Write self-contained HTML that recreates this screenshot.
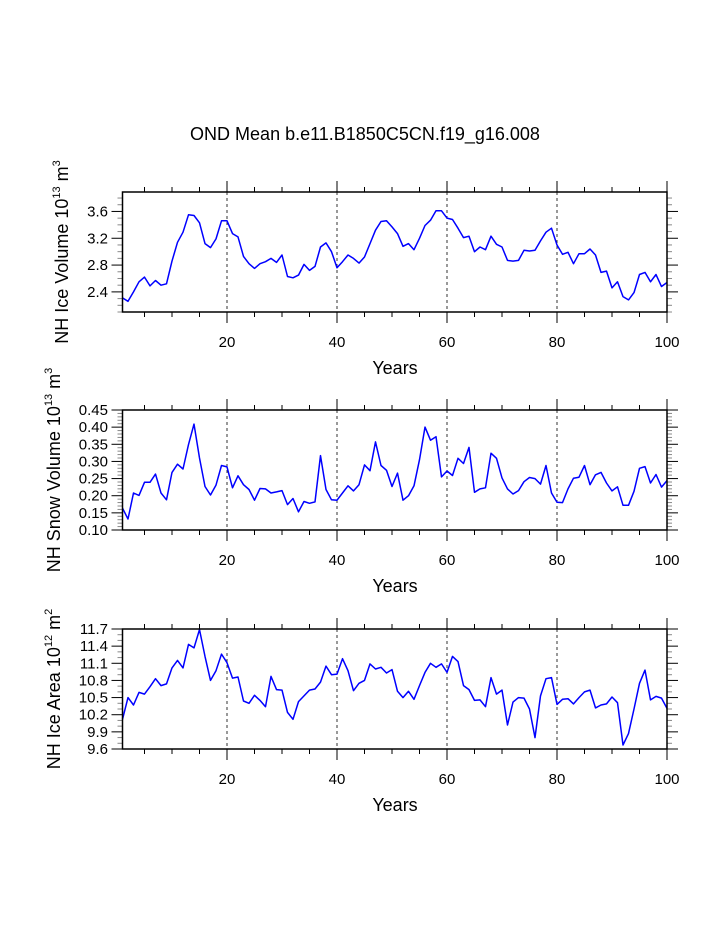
<!DOCTYPE html>
<html><head><meta charset="utf-8"><style>
html,body{margin:0;padding:0;background:#fff;}
svg{display:block;font-family:"Liberation Sans",Arial,sans-serif;}
</style></head><body>
<svg id="chart" width="723" height="935" viewBox="0 0 723 935" xmlns="http://www.w3.org/2000/svg">
<text x="365" y="140" font-size="18" text-anchor="middle">OND Mean b.e11.B1850C5CN.f19_g16.008</text>
</svg>
<script>
const years = Array.from({length:100},(_,i)=>i+1);
const iceVolume = [2.31,2.26,2.40,2.55,2.62,2.49,2.57,2.50,2.52,2.86,3.14,3.29,3.55,3.54,3.43,3.12,3.06,3.19,3.46,3.46,3.27,3.22,2.93,2.82,2.75,2.82,2.85,2.90,2.84,2.95,2.63,2.61,2.65,2.81,2.72,2.78,3.07,3.13,3.00,2.76,2.85,2.95,2.90,2.83,2.92,3.12,3.32,3.45,3.46,3.37,3.27,3.08,3.12,3.03,3.20,3.39,3.47,3.61,3.61,3.50,3.48,3.35,3.21,3.23,3.00,3.07,3.03,3.23,3.11,3.07,2.87,2.86,2.87,3.02,3.01,3.02,3.16,3.29,3.35,3.10,2.96,2.99,2.82,2.97,2.97,3.04,2.95,2.69,2.71,2.46,2.55,2.33,2.28,2.39,2.66,2.69,2.55,2.66,2.48,2.54];
const snowVolume = [0.164,0.132,0.208,0.201,0.239,0.239,0.263,0.208,0.188,0.268,0.292,0.278,0.349,0.409,0.310,0.227,0.202,0.231,0.288,0.284,0.223,0.258,0.232,0.218,0.187,0.221,0.220,0.208,0.211,0.215,0.174,0.192,0.153,0.183,0.178,0.182,0.317,0.218,0.188,0.187,0.208,0.229,0.214,0.232,0.290,0.273,0.357,0.288,0.274,0.227,0.266,0.187,0.200,0.229,0.305,0.400,0.362,0.372,0.255,0.272,0.259,0.309,0.294,0.341,0.210,0.220,0.223,0.324,0.309,0.252,0.220,0.205,0.215,0.241,0.253,0.250,0.234,0.288,0.208,0.181,0.180,0.220,0.251,0.254,0.288,0.232,0.261,0.268,0.237,0.214,0.226,0.172,0.172,0.213,0.280,0.285,0.237,0.262,0.225,0.244];
const iceArea = [10.12,10.50,10.37,10.59,10.56,10.69,10.83,10.71,10.74,11.02,11.15,11.02,11.43,11.37,11.69,11.22,10.80,10.97,11.26,11.11,10.84,10.86,10.44,10.40,10.54,10.45,10.34,10.87,10.64,10.63,10.24,10.12,10.43,10.53,10.63,10.65,10.77,11.05,10.90,10.91,11.18,10.97,10.62,10.75,10.80,11.09,11.00,11.03,10.93,10.99,10.61,10.50,10.61,10.47,10.71,10.94,11.10,11.03,11.09,10.94,11.22,11.13,10.71,10.64,10.45,10.46,10.34,10.85,10.56,10.63,10.02,10.42,10.50,10.49,10.30,9.80,10.53,10.83,10.85,10.38,10.47,10.48,10.39,10.50,10.60,10.63,10.32,10.37,10.39,10.51,10.41,9.67,9.87,10.30,10.75,10.98,10.46,10.52,10.49,10.31];
const xTickLabels = [20,40,60,80,100];
const iceVolTicks = ["2.4","2.8","3.2","3.6"];
const snowTicks = ["0.10","0.15","0.20","0.25","0.30","0.35","0.40","0.45"];
const areaTicks = ["9.6","9.9","10.2","10.5","10.8","11.1","11.4","11.7"];

const NS="http://www.w3.org/2000/svg";
const svg=document.getElementById('chart');
const X0=122.5,X1=667;
function xs(v){return X0+(v-1)*(X1-X0)/99;}
function mk(tag,attrs,parent){const e=document.createElementNS(NS,tag);for(const k in attrs)e.setAttribute(k,attrs[k]);(parent||svg).appendChild(e);return e;}

function panel(cfg){
  const g=mk('g',{});
  
  
  const ys=v=>cfg.bot-(v-cfg.ymin)*(cfg.bot-cfg.top)/(cfg.ymax-cfg.ymin);
  [20,40,60,80].forEach(v=>{
    const l=mk('line',{x1:xs(v),x2:xs(v),y1:cfg.top,y2:cfg.bot,stroke:'#333','stroke-width':1,'stroke-dasharray':'3,3'},g);
    
    
  });
  for(let v=5;v<=100;v+=5){
    const maj=v%20===0, len=maj?11:5;
    mk('line',{x1:xs(v),x2:xs(v),y1:cfg.top,y2:cfg.top-len,stroke:'#000','stroke-width':1},g);
    mk('line',{x1:xs(v),x2:xs(v),y1:cfg.bot,y2:cfg.bot+len,stroke:'#000','stroke-width':1},g);
  }
  xTickLabels.forEach(v=>{
    const t=mk('text',{x:xs(v),y:cfg.bot+35,'font-size':15,'text-anchor':'middle'},g);
    t.textContent=v;
    
    
  });
  const n=Math.round((cfg.ymax-cfg.ymin)/cfg.minor);
  for(let i=0;i<=n+1;i++){
    const v=cfg.minorStart+i*cfg.minor; if(v>cfg.ymax+1e-9||v<cfg.ymin-1e-9)continue;
    const isMaj=cfg.ticks.some(t=>Math.abs(parseFloat(t)-v)<1e-6);
    const len=isMaj?11:5;
    mk('line',{x1:X0,x2:X0-len,y1:ys(v),y2:ys(v),stroke:isMaj?'#000':'#888','stroke-width':1},g);
    mk('line',{x1:X1,x2:X1+len,y1:ys(v),y2:ys(v),stroke:isMaj?'#000':'#888','stroke-width':1},g);
  }
  cfg.ticks.forEach(s=>{
    const t=mk('text',{x:108,y:ys(parseFloat(s))+5,'font-size':15,'text-anchor':'end'},g);
    t.textContent=s;
    
    
  });
  const d=cfg.data.map((v,i)=>(i?'L':'M')+xs(years[i]).toFixed(1)+','+ys(v).toFixed(1)).join('');
  const p=mk('path',{d:d,fill:'none',stroke:'#0000ff','stroke-width':1.5,'stroke-linejoin':'round'},g);
  
  
  mk('rect',{x:X0,y:cfg.top,width:X1-X0,height:cfg.bot-cfg.top,fill:'none',stroke:'#000','stroke-width':1.5},g);
  const xt=mk('text',{x:395,y:cfg.bot+62,'font-size':18,'text-anchor':'middle'},g);
  xt.textContent='Years';
  
  
  const cy=(cfg.top+cfg.bot)/2;
  const yt=mk('text',{x:cfg.titleX,y:cy,'font-size':18,'text-anchor':'middle',transform:'rotate(-90 '+cfg.titleX+' '+cy+')'},g);
  yt.innerHTML=cfg.title+' 10<tspan font-size="11" dy="-8">'+cfg.exp+'</tspan><tspan dy="8"> m</tspan><tspan font-size="11" dy="-8">'+cfg.unitExp+'</tspan>';
  
  
}
panel({name:'ice-volume-panel',top:192,bot:312,ymin:2.1,ymax:3.89,minor:0.1,minorStart:2.1,ticks:iceVolTicks,data:iceVolume,title:'NH Ice Volume',exp:'13',unitExp:'3',titleX:68});
panel({name:'snow-volume-panel',top:410,bot:530,ymin:0.10,ymax:0.45,minor:0.01,minorStart:0.10,ticks:snowTicks,data:snowVolume,title:'NH Snow Volume',exp:'13',unitExp:'3',titleX:60});
panel({name:'ice-area-panel',top:629,bot:749,ymin:9.6,ymax:11.7,minor:0.1,minorStart:9.6,ticks:areaTicks,data:iceArea,title:'NH Ice Area',exp:'12',unitExp:'2',titleX:60});
</script>
</body></html>
